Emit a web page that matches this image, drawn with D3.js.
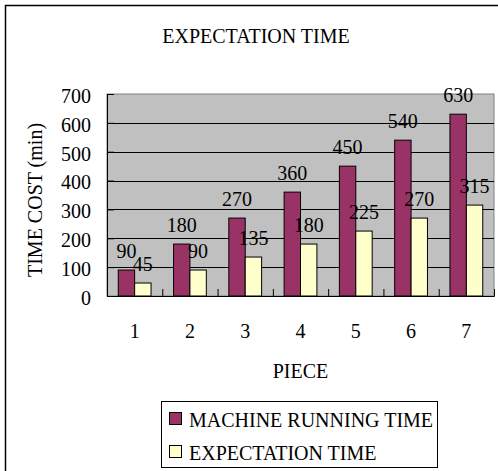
<!DOCTYPE html>
<html>
<head>
<meta charset="utf-8">
<script src="https://cdn.jsdelivr.net/npm/d3@7"></script>
</head>
<body style="margin:0;padding:0;background:#fff">
<svg id="chart" width="498" height="471" style="display:block"></svg>
<script>
// Chart data
const pieces = ["1", "2", "3", "4", "5", "6", "7"];
const machineRunning = [90, 180, 270, 360, 450, 540, 630];
const expectation = [45, 90, 135, 180, 225, 270, 315];
const seriesNames = ["MACHINE RUNNING TIME", "EXPECTATION TIME"];
const seriesColors = ["#993366", "#FFFFCC"];
const yTicks = [0, 100, 200, 300, 400, 500, 600, 700];
const chartTitle = "EXPECTATION TIME";
const xTitle = "PIECE";
const yTitle = "TIME COST (min)";

const FONT = "Liberation Serif";
const fontSize = 20;

const svg = d3.select("#chart");
const W = 498, H = 471;
const plot = { left: 107, right: 494, top: 94, bottom: 296 };

// Apply the serif face to a text selection
function serifText(sel, size = fontSize) {
  return sel.style("font-family", FONT).style("font-size", size + "px").style("fill", "#000");
}

// Outer chart frame (runs past the visible window on the right/bottom)
svg.append("rect")
  .attr("x", 5.5).attr("y", 5.5)
  .attr("width", W + 20).attr("height", H + 20)
  .attr("fill", "#fff").attr("stroke", "#000").attr("stroke-width", 1.5);

// Scales
const x0 = d3.scaleBand().domain(pieces).range([plot.left, plot.right]).padding(0);
const groupFrac = 0.593;
const x1 = d3.scaleBand().domain(seriesNames)
  .range([x0.bandwidth() * (1 - groupFrac) / 2, x0.bandwidth() * (1 + groupFrac) / 2]);
const y = d3.scaleLinear().domain([0, 700]).range([plot.bottom, plot.top]);
const color = d3.scaleOrdinal().domain(seriesNames).range(seriesColors);

// Plot area background
svg.append("rect")
  .attr("x", plot.left).attr("y", plot.top)
  .attr("width", plot.right - plot.left).attr("height", plot.bottom - plot.top)
  .attr("fill", "#C0C0C0").attr("stroke", "#808080").attr("stroke-width", 1);

// Horizontal gridlines
svg.append("g")
  .selectAll("line")
  .data(yTicks.filter(t => t > 0 && t < 700))
  .join("line")
  .attr("x1", plot.left).attr("x2", plot.right)
  .attr("y1", d => Math.round(y(d)) + 0.5).attr("y2", d => Math.round(y(d)) + 0.5)
  .attr("stroke", "#000").attr("stroke-width", 1);

// Bars
const rows = pieces.map((p, i) => ({ piece: p, values: [machineRunning[i], expectation[i]] }));
const groups = svg.append("g").selectAll("g")
  .data(rows).join("g")
  .attr("transform", d => `translate(${x0(d.piece)},0)`);

groups.selectAll("rect")
  .data(d => d.values.map((v, k) => ({ key: seriesNames[k], value: v })))
  .join("rect")
  .attr("x", d => x1(d.key))
  .attr("y", d => y(d.value))
  .attr("width", x1.bandwidth())
  .attr("height", d => y(0) - y(d.value))
  .attr("fill", d => color(d.key))
  .attr("stroke", "#000").attr("stroke-width", 1);

// Value labels above each bar
groups.selectAll("text.val")
  .data(d => d.values.map((v, k) => ({ key: seriesNames[k], value: v })))
  .join("text")
  .attr("class", "val")
  .attr("x", d => x1(d.key) + x1.bandwidth() / 2)
  .attr("y", d => y(d.value) - 12)
  .attr("text-anchor", "middle")
  .call(serifText)
  .text(d => d.value);

// Y axis: ticks point into the plot
const yAxis = d3.axisLeft(y).tickValues(yTicks).tickSize(-7).tickPadding(16).tickFormat(d3.format("d"));
const yg = svg.append("g").attr("transform", `translate(${plot.left},0)`).call(yAxis);
yg.attr("font-family", null).attr("font-size", null);
yg.select(".domain").attr("stroke", "#000");
yg.selectAll(".tick line").attr("stroke", "#000");
yg.selectAll(".tick text").call(serifText).attr("dy", "0.42em");

// X axis baseline with separator ticks between pieces
const xEdge = d3.scaleLinear().domain([0, pieces.length]).range([plot.left, plot.right]);
const xTickAxis = d3.axisBottom(xEdge).tickValues(d3.range(1, pieces.length + 1)).tickSize(-7).tickFormat("");
const xg = svg.append("g").attr("transform", `translate(0,${plot.bottom})`).call(xTickAxis);
xg.select(".domain").attr("stroke", "#000");
xg.selectAll(".tick line").attr("stroke", "#000");

// X category labels
const xLabelAxis = d3.axisBottom(x0).tickSize(0).tickPadding(28);
const xl = svg.append("g").attr("transform", `translate(0,${plot.bottom})`).call(xLabelAxis);
xl.attr("font-family", null).attr("font-size", null);
xl.select(".domain").remove();
xl.selectAll(".tick text").call(serifText);

// Titles
svg.append("text")
  .attr("x", 256).attr("y", 43)
  .attr("text-anchor", "middle")
  .call(serifText)
  .text(chartTitle);

svg.append("text")
  .attr("x", (plot.left + plot.right) / 2).attr("y", 378)
  .attr("text-anchor", "middle")
  .call(serifText)
  .text(xTitle);

svg.append("text")
  .attr("transform", "translate(42,200) rotate(-90)")
  .attr("text-anchor", "middle")
  .call(serifText)
  .text(yTitle);

// Legend
const legend = svg.append("g");
legend.append("rect")
  .attr("x", 161.5).attr("y", 401.5)
  .attr("width", 276).attr("height", 66)
  .attr("fill", "#fff").attr("stroke", "#000").attr("stroke-width", 1);

const items = legend.selectAll("g.item")
  .data(seriesNames).join("g")
  .attr("class", "item")
  .attr("transform", (d, i) => `translate(0,${i * 33})`);

items.append("rect")
  .attr("x", 169.5).attr("y", 412.5)
  .attr("width", 12).attr("height", 12)
  .attr("fill", d => color(d))
  .attr("stroke", "#000").attr("stroke-width", 1);

items.append("text")
  .attr("x", 189).attr("y", 427)
  .call(serifText)
  .text(d => d);
</script>
</body>
</html>
